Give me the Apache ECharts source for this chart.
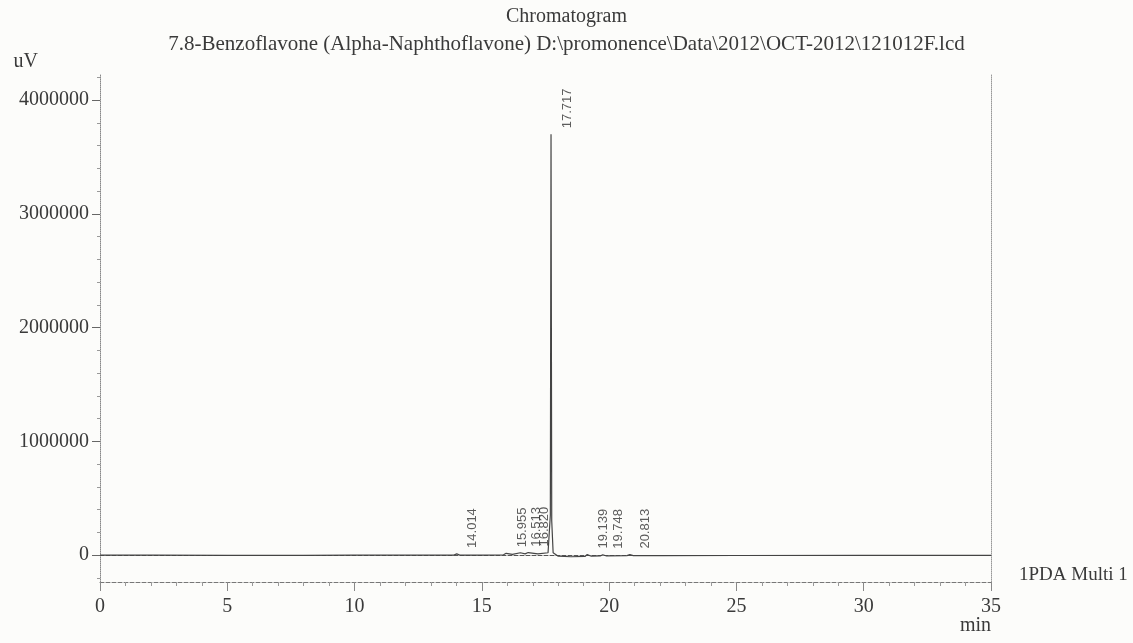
<!DOCTYPE html>
<html>
<head>
<meta charset="utf-8">
<title>Chromatogram</title>
<script src="https://cdn.jsdelivr.net/npm/echarts@6/dist/echarts.min.js"></script>
<style>
html,body{margin:0;padding:0;background:#fcfcfa;}
#chromatogram{width:1133px;height:643px;}
</style>
</head>
<body>
<div id="chromatogram"></div>
<script>
// trace: retention time (min) / signal (uV)
var times  = [0, 2, 5, 8, 10, 12, 13.9, 14.014, 14.13, 15, 15.85, 15.955, 16.2, 16.513, 16.7, 16.82, 17.2, 17.6, 17.69, 17.717, 17.745, 17.8, 18.0, 18.5, 19.05, 19.139, 19.3, 19.65, 19.748, 19.9, 20.7, 20.813, 20.95, 22, 25, 30, 35];
var signal = [0, 0, -3000, -2000, 0, 0, 0, 10000, 0, 0, 2000, 15000, 6000, 20000, 10000, 22000, 10000, 20000, 350000, 3700000, 300000, 20000, -10000, -15000, -12000, 4000, -10000, -8000, 3000, -8000, -5000, 4000, -5000, -5000, -4000, -3000, -2000];

// integrated peaks (labelled with retention time)
var peakTimes   = [14.014, 15.955, 16.513, 16.820, 17.717, 19.139, 19.748, 20.813];
var peakHeights = [10000, 15000, 20000, 22000, 3700000, 4000, 3000, 4000];

var yMajorTicks = [0, 1000000, 2000000, 3000000, 4000000];
var yMinorTicks = [-200000, 200000, 400000, 600000, 800000, 1200000, 1400000, 1600000, 1800000,
                   2200000, 2400000, 2600000, 2800000, 3200000, 3400000, 3600000, 3800000, 4200000];

var seriesName = '1PDA Multi 1';
var subtitle = '7.8-Benzoflavone (Alpha-Naphthoflavone) D:\\promonence\\Data\\2012\\OCT-2012\\121012F.lcd';

var serif = 'Liberation Serif';
var ink = '#3a3a3a';

var trace = times.map(function (t, i) { return [t, signal[i]]; });
var peaks = peakTimes.map(function (t, i) { return [t, peakHeights[i]]; });

var chartDom = document.getElementById('chromatogram');
var myChart = echarts.init(chartDom);
var option;

var yMin = -237000, yMax = 4230000;

option = {
    backgroundColor: '#fcfcfa',
    animation: false,
    title: [
        {
            text: 'Chromatogram',
            left: 'center',
            top: 2,
            padding: [5, 0, 5, 14],
            textStyle: { fontFamily: serif, fontSize: 20, fontWeight: 'normal', color: ink }
        },
        {
            text: subtitle,
            left: 'center',
            top: 29,
            padding: [5, 0, 5, 14],
            textStyle: { fontFamily: serif, fontSize: 21, fontWeight: 'normal', color: ink }
        }
    ],
    grid: { left: 100, right: 142, top: 74, bottom: 61 },
    xAxis: [
        {
            type: 'value',
            min: 0,
            max: 35,
            interval: 5,
            name: 'min',
            nameLocation: 'end',
            nameGap: 0,
            nameMoveOverlap: false,
            nameTextStyle: { fontFamily: serif, fontSize: 20, color: ink, align: 'right', verticalAlign: 'top', padding: [34, 0, 0, 0] },
            axisLine: { show: true, onZero: false, lineStyle: { color: '#777', type: 'dashed', width: 1 } },
            axisTick: { show: true, length: 9, lineStyle: { color: '#888' } },
            minorTick: { show: true, splitNumber: 5, length: 4, lineStyle: { color: '#999' } },
            axisLabel: { fontFamily: serif, fontSize: 20, color: ink, margin: 15 },
            splitLine: { show: false }
        },
        {
            type: 'value',
            position: 'top',
            min: 0,
            max: 35,
            axisLine: { show: true, lineStyle: { color: '#555', type: 'dashed', width: 1 } },
            axisTick: { show: false },
            axisLabel: { show: false },
            splitLine: { show: false }
        }
    ],
    yAxis: [
        {
            type: 'value',
            position: 'left',
            min: yMin,
            max: yMax,
            name: 'uV',
            nameLocation: 'end',
            nameGap: 2,
            nameTextStyle: { fontFamily: serif, fontSize: 20, color: ink, align: 'right', padding: [0, 62, 0, 0] },
            axisLine: { show: true, onZero: false, lineStyle: { color: '#888', type: 'dotted', width: 1 } },
            axisTick: { show: true, length: 8, customValues: yMajorTicks, lineStyle: { color: '#666' } },
            axisLabel: {
                fontFamily: serif, fontSize: 20, color: ink, margin: 11,
                customValues: yMajorTicks,
                formatter: function (v) { return String(v); }
            },
            splitLine: { show: false }
        },
        {
            type: 'value',
            position: 'left',
            min: yMin,
            max: yMax,
            axisLine: { show: false },
            axisTick: { show: true, length: 3, customValues: yMinorTicks, lineStyle: { color: '#999' } },
            axisLabel: { show: false },
            splitLine: { show: false }
        },
        {
            type: 'value',
            position: 'right',
            min: yMin,
            max: yMax,
            axisLine: { show: true, onZero: false, lineStyle: { color: '#999', type: 'dotted', width: 1 } },
            axisTick: { show: false },
            axisLabel: { show: false },
            splitLine: { show: false }
        }
    ],
    series: [
        {
            name: seriesName,
            type: 'line',
            xAxisIndex: 0,
            yAxisIndex: 0,
            data: trace,
            showSymbol: false,
            symbol: 'none',
            lineStyle: { color: '#444', width: 1.2 },
            endLabel: {
                show: true,
                formatter: seriesName,
                offset: [20, 20],
                fontFamily: serif,
                fontSize: 19,
                color: ink
            },
            z: 3
        },
        {
            name: 'peaks',
            type: 'scatter',
            xAxisIndex: 0,
            yAxisIndex: 0,
            data: peaks,
            symbolSize: 0,
            silent: true,
            label: {
                show: true,
                position: 'top',
                distance: 6,
                rotate: 90,
                align: 'left',
                verticalAlign: 'middle',
                offset: [0, 16],
                fontFamily: 'Liberation Sans',
                fontSize: 13,
                color: '#333',
                formatter: function (p) { return p.value[0].toFixed(3); }
            },
            z: 4
        }
    ]
};

option && myChart.setOption(option);
window.addEventListener("resize", function () {
    myChart.resize();
});
</script>
</body>
</html>
